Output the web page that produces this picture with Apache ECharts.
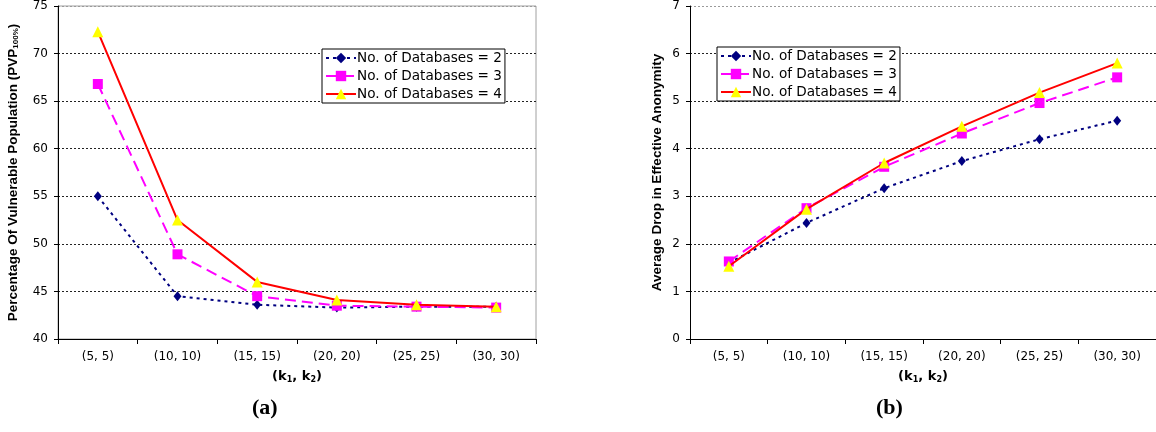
<!DOCTYPE html>
<html>
<head>
<meta charset="utf-8">
<script src="https://cdn.jsdelivr.net/npm/echarts@6/dist/echarts.min.js"></script>
<style>
html,body{margin:0;padding:0;background:#fff;}
#c{width:1156px;height:432px;}
</style>
</head>
<body>
<div id="c"></div>
<script>
const categories = ['(5, 5)', '(10, 10)', '(15, 15)', '(20, 20)', '(25, 25)', '(30, 30)'];
const seriesNames = ['No. of Databases = 2', 'No. of Databases = 3', 'No. of Databases = 4'];
// (a) Percentage of vulnerable population
const pvpDb2 = [55.0, 44.5, 43.6, 43.3, 43.4, 43.4];
const pvpDb3 = [66.8, 48.9, 44.5, 43.5, 43.4, 43.3];
const pvpDb4 = [72.3, 52.5, 46.0, 44.1, 43.6, 43.4];
// (b) Average drop in effective anonymity
const dropDb2 = [1.60, 2.44, 3.17, 3.74, 4.20, 4.59];
const dropDb3 = [1.63, 2.75, 3.62, 4.32, 4.96, 5.50];
const dropDb4 = [1.53, 2.73, 3.70, 4.47, 5.18, 5.80];
const captions = ['(a)', '(b)'];

const chart = echarts.init(document.getElementById('c'));

const tickFont = {fontFamily: 'DejaVu Sans', fontSize: 12, color: '#000'};
const styles = [
  {color: '#000080', symbol: 'diamond', symbolSize: [8, 10], line: {type: [3, 4], width: 2}},
  {color: '#FF00FF', symbol: 'rect', symbolSize: 10, line: {type: [11, 6], width: 2}},
  {color: '#FF0000', symbol: 'triangle', symbolSize: 11, line: {type: 'solid', width: 2}, symColor: '#FFFF00'}
];

function mkSeries(data, idx, gi) {
  const s = styles[idx];
  return {
    type: 'line', name: seriesNames[idx], xAxisIndex: gi, yAxisIndex: gi,
    data: data, symbol: s.symbol, symbolSize: s.symbolSize, showAllSymbol: true,
    lineStyle: {color: s.color, width: s.line.width, type: s.line.type},
    itemStyle: {color: s.symColor || s.color, borderWidth: 0},
    emphasis: {disabled: true}, animation: false, z: 3 + idx
  };
}

function xAxis(gi) {
  return {
    type: 'category', gridIndex: gi, data: categories, boundaryGap: true,
    axisLine: {lineStyle: {color: '#000', width: 1}},
    axisTick: {show: true, length: 5, alignWithLabel: false, lineStyle: {color: '#000'}},
    axisLabel: Object.assign({margin: 12, interval: 0}, tickFont),
    name: '(k{s|1}, k{s|2})', nameLocation: 'middle', nameGap: 31,
    nameTextStyle: {fontFamily: 'DejaVu Sans', fontWeight: 'bold', fontSize: 13, color: '#000',
      rich: {s: {fontFamily: 'DejaVu Sans', fontWeight: 'bold', fontSize: 8, color: '#000', verticalAlign: 'bottom', padding: [6, 0, 0, 0]}}}
  };
}

function gridColors(n) {
  const a = [];
  for (let i = 0; i < n; i++) a.push(i === n - 1 ? '#9a9a9a' : '#222');
  return a;
}

function yAxis(gi, min, max, interval, name, gap) {
  const n = Math.round((max - min) / interval) + 1;
  return {
    type: 'value', gridIndex: gi, min: min, max: max, interval: interval,
    axisLine: {show: true, lineStyle: {color: '#000', width: 1}},
    axisTick: {show: true, length: 4, lineStyle: {color: '#000'}},
    axisLabel: Object.assign({margin: 10}, tickFont),
    splitLine: {show: true, lineStyle: {color: gridColors(n), type: [2, 2], width: 1}},
    name: name, nameLocation: 'middle', nameGap: gap, nameRotate: 90,
    nameTextStyle: {fontFamily: 'Liberation Sans', fontWeight: 'bold', fontSize: 13.5, color: '#000',
      rich: {s: {fontFamily: 'Liberation Sans', fontWeight: 'bold', fontSize: 8, color: '#000', verticalAlign: 'bottom', padding: [6, 0, 0, 0]}}}
  };
}

function legend(left, top) {
  return {
    orient: 'vertical', left: left, top: top, data: seriesNames,
    backgroundColor: '#fff', borderColor: '#000', borderWidth: 1,
    padding: [2, 3, 2, 3], itemGap: 4, itemWidth: 30, itemHeight: 13,
    selectedMode: false,
    textStyle: {fontFamily: 'DejaVu Sans', fontSize: 13.6, color: '#000', lineHeight: 14, padding: [0, 0, 0, -4]}
  };
}

const option = {
  backgroundColor: '#fff',
  animation: false,
  grid: [
    {left: 58, top: 4, width: 478, height: 335, show: true, borderColor: '#a0a0a0', borderWidth: 1, backgroundColor: 'transparent'},
    {left: 690, top: 4, width: 468, height: 335, show: false}
  ],
  xAxis: [xAxis(0), xAxis(1)],
  yAxis: [
    yAxis(0, 40, 75, 5, 'Percentage Of Vulnerable Population (PVP{s|100%})', 38),
    yAxis(1, 0, 7, 1, 'Average Drop in Effective Anonymity', 26)
  ],
  legend: [legend(322, 49), legend(717, 47)],
  series: [
    mkSeries(pvpDb2, 0, 0), mkSeries(pvpDb3, 1, 0), mkSeries(pvpDb4, 2, 0),
    mkSeries(dropDb2, 0, 1), mkSeries(dropDb3, 1, 1), mkSeries(dropDb4, 2, 1)
  ],
  graphic: [
    {type: 'text', left: 252, top: 397, style: {text: captions[0], font: 'bold 22px "Liberation Serif"', fill: '#000'}},
    {type: 'text', left: 876, top: 397, style: {text: captions[1], font: 'bold 22px "Liberation Serif"', fill: '#000'}}
  ]
};
chart.setOption(option);
</script>
</body>
</html>
